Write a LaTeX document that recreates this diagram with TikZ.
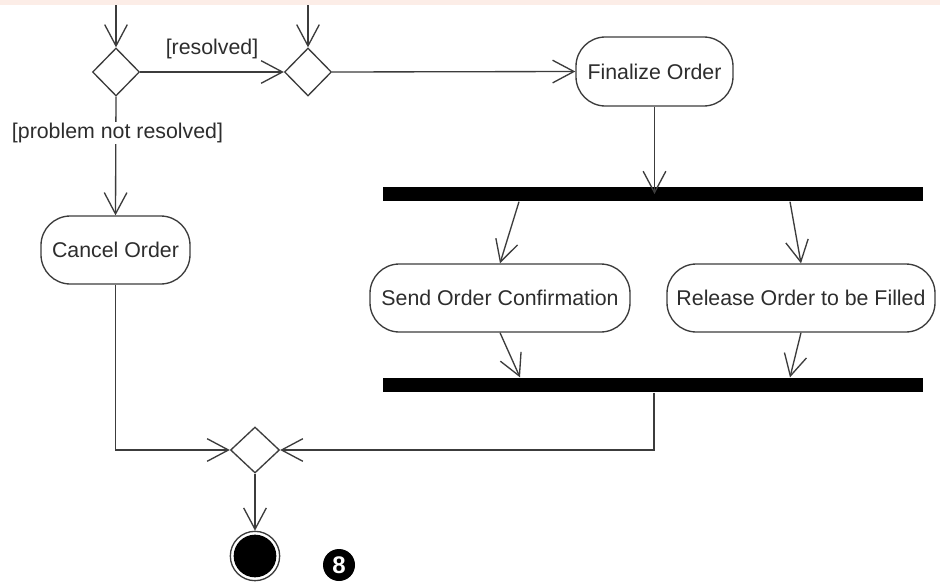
\documentclass[tikz,border=0pt]{standalone}
\usepackage{fontspec}
\setmainfont{Liberation Sans}
\usetikzlibrary{arrows.meta,shapes.geometric}
\definecolor{ink}{RGB}{60,60,60}
\definecolor{txt}{RGB}{45,45,45}
\definecolor{topband}{RGB}{252,237,231}
\begin{document}
\begin{tikzpicture}[x=0.75pt,y=-0.75pt,
  line width=1pt,
  every node/.style={font=\fontsize{16}{19}\selectfont, text=txt},
  arr/.style={draw=ink, -{Straight Barb[length=16pt,width=17pt,line width=1pt]}},
  action/.style={draw=ink, rectangle, rounded corners=22pt, inner sep=0pt, fill=white},
  decision/.style={draw=ink, diamond, inner sep=0pt, fill=white},
  bar/.style={fill=black, rectangle, inner sep=0pt, minimum width=405pt, minimum height=10.5pt},
  guard/.style={fill=white, inner sep=1pt}]
% canvas
\useasboundingbox (0,0) rectangle (940,582);
\fill[white] (0,0) rectangle (940,582);
\fill[topband] (0,0) rectangle (940,5);

% entry points
\coordinate (in1) at (116,5);
\coordinate (in2) at (308,5);

% decisions and merges
\node[decision, minimum width=35.25pt, minimum height=36pt] (d1) at (116,72) {};
\node[decision, minimum width=35.25pt, minimum height=36pt] (d2) at (308,72) {};
\node[decision, minimum width=36.75pt, minimum height=34.5pt] (m) at (255,450) {};

% actions
\node[action, minimum width=117.75pt, minimum height=51.75pt] (fin) at (654.5,71.5) {Finalize Order};
\node[action, minimum width=111.75pt, minimum height=51pt] (cancel) at (115.5,250) {Cancel Order};
\node[action, minimum width=195pt, minimum height=51pt] (send) at (500,298) {Send Order Confirmation};
\node[action, minimum width=201pt, minimum height=51pt] (rel) at (801,298) {Release Order to be Filled};

% fork and join bars
\node[bar] (fork) at (653,194) {};
\node[bar] (join) at (653,385) {};

% final node
\node[circle, draw=ink, line width=1pt, minimum size=37pt, inner sep=0pt] (end) at (255,556) {};
\fill[black] (end.center) circle[radius=16pt];

% page badge
\node[circle, fill=black, minimum size=24pt, inner sep=0pt, text=white,
      font=\fontsize{18}{19}\selectfont\bfseries] (badge) at (339,565) {8};

% incoming flows
\draw[arr] (in1) -- (d1.north);
\draw[arr] (in2) -- (d2.north);

% decision branches
\draw[arr] (d1.east) -- node[above=6pt, pos=0.5] {[resolved]} (d2.west);
\draw[arr] (d1.south) -- (cancel.north);
\node[guard] (g1) at (117.5,133) {[problem not resolved]};
\draw[arr] (d2.east) -- (fin.west);

% fork
\draw[arr] (fin.south) -- (fin.south |- fork.center);
\draw[arr] (fork.south -| 519,0) -- (send.north);
\draw[arr] (fork.south -| 790,0) -- (rel.north);

% join
\draw[arr] (send.south) -- (join.north -| 520,0);
\draw[arr] (rel.south) -- (join.north -| 790,0);

% merge
\draw[arr] (join.south -| 654,0) |- (m.east);
\draw[arr] (cancel.south) |- (m.west);
\draw[arr] (m.south) -- (end.north);
\end{tikzpicture}
\end{document}
